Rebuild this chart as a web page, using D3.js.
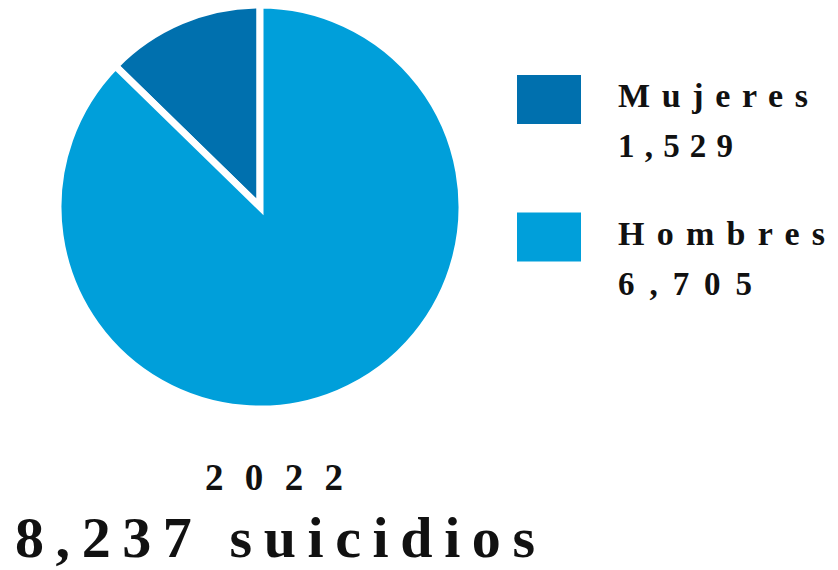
<!DOCTYPE html>
<html>
<head>
<meta charset="utf-8">
<script src="https://cdn.jsdelivr.net/npm/d3@7"></script>
<style>
  body { margin: 0; background: #fff; }
  text { font-family: "Liberation Serif", "DejaVu Serif", serif; font-weight: bold; fill: #111; }
</style>
</head>
<body>
<div id="chart"></div>
<script>
var width = 838;
var height = 570;

// data
var categories = ["Mujeres", "Hombres"];
var counts = ["1,529", "6,705"];          // labels as printed
var sliceShares = [12.7, 87.3];          // share of pie as drawn
var colors = ["#0070ae", "#009fda"];
var year = "2022";
var totalLabel = "8,237 suicidios";

var cx = 260, cy = 207, radius = 202;

var svg = d3.select("#chart").append("svg")
  .attr("width", width)
  .attr("height", height);

var total = d3.sum(sliceShares);
var pie = d3.pie()
  .sort(null)
  .startAngle(-2 * Math.PI * sliceShares[0] / total)
  .endAngle(2 * Math.PI - 2 * Math.PI * sliceShares[0] / total);

var arc = d3.arc().innerRadius(0).outerRadius(radius);

var g = svg.append("g").attr("transform", "translate(" + cx + "," + cy + ")");
g.selectAll("path")
  .data(pie(sliceShares))
  .enter().append("path")
  .attr("d", arc)
  .attr("fill", function(d, i) { return colors[i]; })
  .attr("stroke", "#fff")
  .attr("stroke-width", 7)
  .attr("stroke-linejoin", "miter");

// legend
var y = d3.scaleBand().domain(categories).range([75, 350]).paddingInner(0);
var leg = svg.selectAll(".leg")
  .data(categories)
  .enter().append("g")
  .attr("class", "leg")
  .attr("transform", function(d) { return "translate(517," + y(d) + ")"; });

leg.append("rect")
  .attr("width", 64)
  .attr("height", 49)
  .attr("fill", function(d, i) { return colors[i]; });

var nameWidths = [190, 207];
var countWidths = [115, 134];
leg.append("text")
  .attr("x", 101)
  .attr("y", 32)
  .attr("font-size", 34)
  .attr("textLength", function(d, i) { return nameWidths[i]; })
  .attr("lengthAdjust", "spacing")
  .text(function(d) { return d; });

leg.append("text")
  .attr("x", 101)
  .attr("y", 82)
  .attr("font-size", 33)
  .attr("textLength", function(d, i) { return countWidths[i]; })
  .attr("lengthAdjust", "spacing")
  .text(function(d, i) { return counts[i]; });

// bottom title
svg.append("text")
  .attr("x", 205)
  .attr("y", 490)
  .attr("font-size", 37)
  .attr("textLength", 138)
  .attr("lengthAdjust", "spacing")
  .text(year);

svg.append("text")
  .attr("x", 15)
  .attr("y", 557)
  .attr("font-size", 58)
  .attr("textLength", 520)
  .attr("lengthAdjust", "spacing")
  .text(totalLabel);
</script>
</body>
</html>
